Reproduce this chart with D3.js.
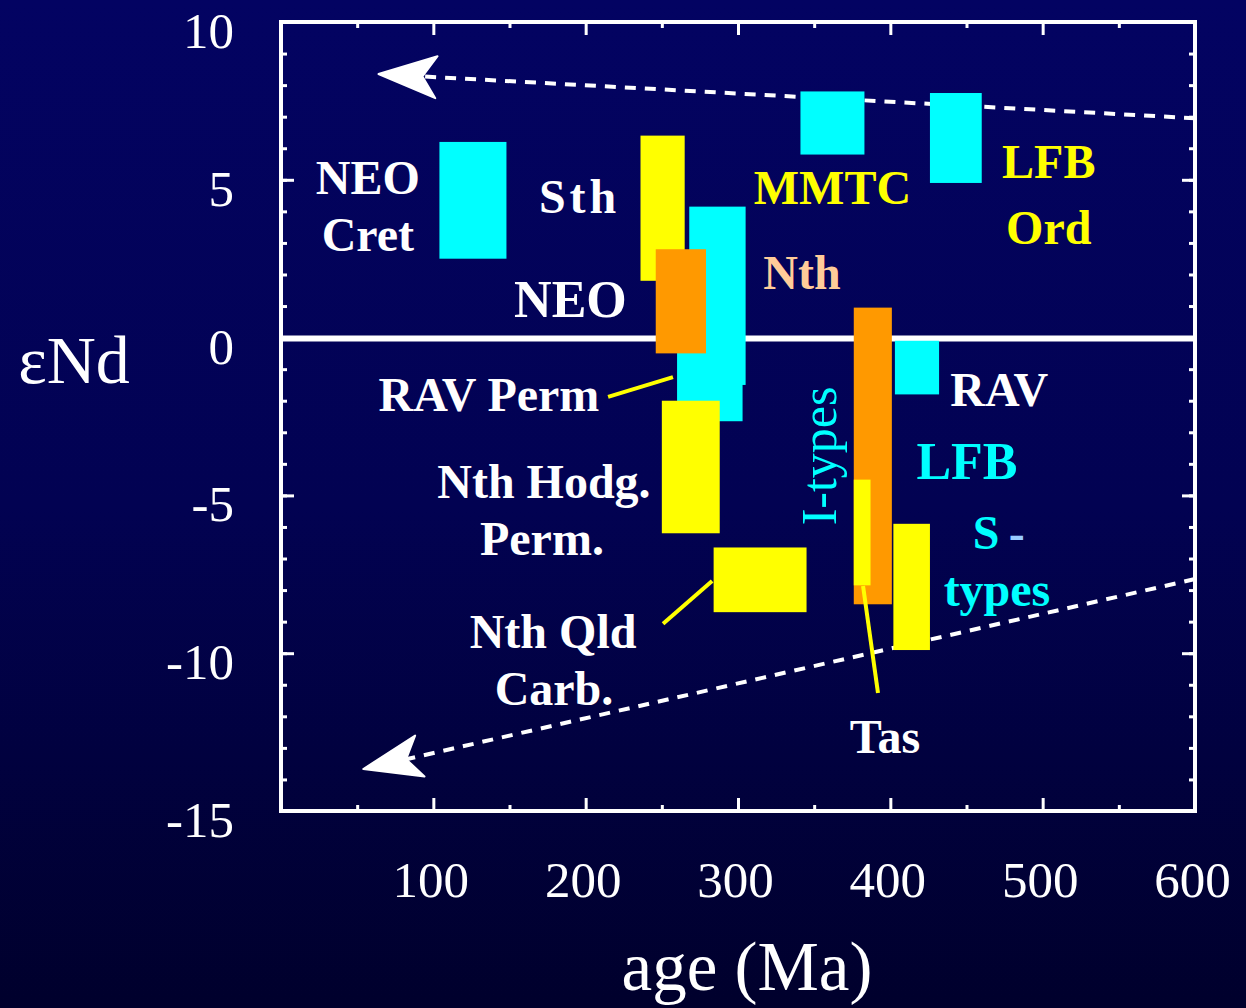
<!DOCTYPE html>
<html>
<head>
<meta charset="utf-8">
<script src="https://cdn.jsdelivr.net/npm/d3@7"></script>
<style>
  body { margin: 0; background: #000030; }
  svg text { font-family: "Liberation Serif", "Times New Roman", serif; }
</style>
</head>
<body>
<div id="chart"></div>
<script>
// age ranges (Ma) and eNd ranges of each field
var boxNames = ["NEO Cret", "Sth", "Nth", "RAV Perm", "NEO", "Nth Hodg. Perm.", "Nth Qld Carb.",
  "MMTC", "LFB Ord", "LFB I-types", "Tas", "RAV", "LFB S-types"];
var boxAgeMin = [104, 236, 268, 260, 246, 250, 284, 341, 426, 376, 376, 403, 402];
var boxAgeMax = [148, 265, 305, 303, 279, 288, 345, 383, 460, 401, 387, 432, 426];
var boxEndLow = [2.5, 1.8, -1.5, -2.65, -0.5, -6.2, -8.7, 5.8, 4.9, -8.45, -7.85, -1.8, -9.9];
var boxEndHigh = [6.2, 6.4, 4.15, 1.2, 2.8, -2.0, -6.65, 7.8, 7.75, 0.95, -4.5, -0.1, -5.9];
var boxFill = ["#00ffff", "#ffff00", "#00ffff", "#00ffff", "#ff9900", "#ffff00", "#ffff00",
  "#00ffff", "#00ffff", "#ff9900", "#ffff00", "#00ffff", "#ffff00"];

// evolution trends: [age, eNd] from old end to arrow tip
var upperTrend = [[600, 6.95], [64, 8.35]];
var lowerTrend = [[600, -7.65], [54, -13.67]];

// label text, age, eNd (baseline)
var labelText = ["NEO", "Cret", "Sth", "NEO", "MMTC", "Nth", "LFB", "Ord", "RAV Perm", "Nth Hodg.",
  "Perm.", "Nth Qld", "Carb.", "RAV", "LFB", "S", "types", "Tas"];
var labelAge = [57, 57, 196, 190, 362, 342, 504, 504, 136.5, 172.6, 171.3, 178.6, 179.2, 471.5, 450.3, 462.8, 470, 396.5];
var labelEnd = [4.55, 2.74, 3.95, 0.65, 4.23, 1.54, 5.06, 2.97, -2.33, -5.08, -6.89, -9.84, -11.64, -2.17, -4.48, -6.7, -8.5, -13.16];
var labelColor = ["#fff", "#fff", "#fff", "#fff", "#ffff00", "#ffcc99", "#ffff00", "#ffff00", "#fff", "#fff",
  "#fff", "#fff", "#fff", "#fff", "#00ffff", "#00ffff", "#00ffff", "#fff"];

// pointer lines [age, eNd] pairs
var pointers = [
  [[214.7, -1.88], [257.3, -1.25]],
  [[250.8, -9.07], [283, -7.71]],
  [[382.1, -7.87], [391.9, -11.26]]
];

var xTicks = [100, 200, 300, 400, 500, 600];
var yTicks = [10, 5, 0, -5, -10, -15];

var w = 1246;
var h = 1008;
var padL = 281, padR = 1195, padT = 22, padB = 811;

var svg = d3.select("#chart").append("svg").attr("width", w).attr("height", h);

var grad = svg.append("defs").append("linearGradient")
  .attr("id", "bg").attr("x1", 0).attr("y1", 0).attr("x2", 0).attr("y2", 1);
grad.append("stop").attr("offset", "0%").attr("stop-color", "#030362");
grad.append("stop").attr("offset", "50%").attr("stop-color", "#020252");
grad.append("stop").attr("offset", "100%").attr("stop-color", "#00002c");

svg.append("rect").attr("width", w).attr("height", h).attr("fill", "url(#bg)");

var x = d3.scaleLinear().domain([0, 600]).range([padL, padR]);
var y = d3.scaleLinear().domain([10, -15]).range([padT, padB]);

// dashed trends with arrowheads
[upperTrend, lowerTrend].forEach(function (t) {
  var r = [x(t[0][0]), y(t[0][1])];
  var tip = [x(t[1][0]), y(t[1][1])];
  var dx = tip[0] - r[0], dy = tip[1] - r[1];
  var len = Math.sqrt(dx * dx + dy * dy);
  var u = [dx / len, dy / len], n = [-u[1], u[0]];
  var notch = [tip[0] - 44 * u[0], tip[1] - 44 * u[1]];
  svg.append("line")
    .attr("x1", r[0]).attr("y1", r[1]).attr("x2", notch[0]).attr("y2", notch[1])
    .attr("stroke", "#fff").attr("stroke-width", 4).attr("stroke-dasharray", "11,9");
  var w1 = [tip[0] - 58 * u[0] + 21 * n[0], tip[1] - 58 * u[1] + 21 * n[1]];
  var w2 = [tip[0] - 58 * u[0] - 21 * n[0], tip[1] - 58 * u[1] - 21 * n[1]];
  svg.append("path")
    .attr("d", "M" + tip + "L" + w1 + "L" + notch + "L" + w2 + "Z")
    .attr("fill", "#fff").attr("stroke", "#fff").attr("stroke-width", 2).attr("stroke-linejoin", "round");
});

// zero line
svg.append("line")
  .attr("x1", x(0)).attr("x2", x(600)).attr("y1", y(0) + 1).attr("y2", y(0) + 1)
  .attr("stroke", "#fff").attr("stroke-width", 6);

// boxes
svg.selectAll(".box")
  .data(boxNames)
  .enter()
  .append("rect")
  .attr("class", "box")
  .attr("x", function (d, i) { return x(boxAgeMin[i]); })
  .attr("y", function (d, i) { return y(boxEndHigh[i]); })
  .attr("width", function (d, i) { return x(boxAgeMax[i]) - x(boxAgeMin[i]); })
  .attr("height", function (d, i) { return y(boxEndLow[i]) - y(boxEndHigh[i]); })
  .attr("fill", function (d, i) { return boxFill[i]; });

// pointer lines
pointers.forEach(function (p) {
  svg.append("line")
    .attr("x1", x(p[0][0])).attr("y1", y(p[0][1]))
    .attr("x2", x(p[1][0])).attr("y2", y(p[1][1]))
    .attr("stroke", "#ffff00").attr("stroke-width", 4);
});

// labels
svg.selectAll(".label")
  .data(labelText)
  .enter()
  .append("text")
  .attr("class", "label")
  .attr("x", function (d, i) { return x(labelAge[i]); })
  .attr("y", function (d, i) { return y(labelEnd[i]); })
  .attr("text-anchor", "middle")
  .attr("fill", function (d, i) { return labelColor[i]; })
  .style("font-weight", "bold")
  .style("font-size", function (d, i) { return (i === 3 || i === 14) ? "52px" : "48px"; })
  .style("letter-spacing", function (d) { return d === "Sth" ? "4px" : null; })
  .text(function (d) { return d; });

// dash after "S"
svg.append("text")
  .attr("x", x(483)).attr("y", y(-6.7))
  .attr("text-anchor", "middle")
  .attr("fill", "#99ccff")
  .style("font-weight", "bold").style("font-size", "48px")
  .text("-");

// vertical I-types label
svg.append("text")
  .attr("transform", "translate(" + x(364.3) + "," + y(-3.75) + ") rotate(-90)")
  .attr("text-anchor", "middle")
  .attr("fill", "#00ffff")
  .style("font-size", "50px")
  .text("I-types");

// axes
function styleAxis(g) {
  g.select(".domain").remove();
  g.selectAll(".tick line").attr("stroke", "#fff").attr("stroke-width", 3);
  g.selectAll(".tick text").attr("fill", "#fff").style("font-size", "51px");
}

svg.append("g")
  .attr("transform", "translate(" + padL + ",0)")
  .call(d3.axisLeft(y).tickValues(d3.range(-14, 10, 1)).tickSize(-6).tickFormat(""))
  .call(styleAxis);
svg.append("g")
  .attr("transform", "translate(" + padR + ",0)")
  .call(d3.axisRight(y).tickValues(d3.range(-14, 10, 1)).tickSize(-6).tickFormat(""))
  .call(styleAxis);
svg.append("g")
  .attr("transform", "translate(" + padL + ",0)")
  .call(d3.axisLeft(y).tickValues(yTicks).tickSize(-13).tickPadding(47).tickFormat(function (d) { return String(d); }))
  .call(styleAxis)
  .selectAll("text").attr("dy", "0.5em");
svg.append("g")
  .attr("transform", "translate(" + padR + ",0)")
  .call(d3.axisRight(y).tickValues([5, 0, -5, -10]).tickSize(-13).tickFormat(""))
  .call(styleAxis);

svg.append("g")
  .attr("transform", "translate(0," + padB + ")")
  .call(d3.axisBottom(x).tickValues(d3.range(50, 600, 100)).tickSize(-6).tickFormat(""))
  .call(styleAxis);
svg.append("g")
  .attr("transform", "translate(0," + padT + ")")
  .call(d3.axisTop(x).tickValues(d3.range(50, 600, 100)).tickSize(-6).tickFormat(""))
  .call(styleAxis);
svg.append("g")
  .attr("transform", "translate(0," + padB + ")")
  .call(d3.axisBottom(x).tickValues(xTicks).tickSize(-13).tickPadding(50))
  .call(styleAxis)
  .selectAll("text").attr("dx", "-3");
svg.append("g")
  .attr("transform", "translate(0," + padT + ")")
  .call(d3.axisTop(x).tickValues(xTicks.slice(0, 5)).tickSize(-13).tickFormat(""))
  .call(styleAxis);

// frame
svg.append("rect")
  .attr("x", padL).attr("y", padT)
  .attr("width", padR - padL).attr("height", padB - padT)
  .attr("fill", "none").attr("stroke", "#fff").attr("stroke-width", 4);

// axis titles
svg.append("text")
  .attr("x", 747).attr("y", 990)
  .attr("text-anchor", "middle")
  .attr("fill", "#fff")
  .style("font-size", "69px")
  .text("age (Ma)");

svg.append("text")
  .attr("x", 74).attr("y", 383)
  .attr("text-anchor", "middle")
  .attr("fill", "#fff")
  .style("font-size", "68px")
  .text("\u03b5Nd");
</script>
</body>
</html>
